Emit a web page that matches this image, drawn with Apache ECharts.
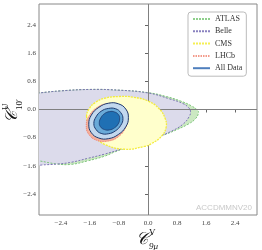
<!DOCTYPE html>
<html><head><meta charset="utf-8">
<script src="https://cdn.jsdelivr.net/npm/echarts@6/dist/echarts.min.js"></script>
<style>html,body{margin:0;padding:0;background:#fff}#c{width:262px;height:250px}</style>
</head><body><div id="c"></div>
<script>
const xTicks = [-2.4, -1.6, -0.8, 0.0, 0.8, 1.6, 2.4];
const yTicks = [-2.4, -1.6, -0.8, 0.0, 0.8, 1.6, 2.4];
const legendNames = ['ATLAS', 'Belle', 'CMS', 'LHCb', 'All Data'];

const atlas = [[-3.3,0.43],[-3,0.47],[-2.4,0.53],[-1.6,0.57],[-0.8,0.55],[0,0.48],[0.5,0.37],[0.9,0.24],[1.2,0.1],[1.36,-0.02],[1.39,-0.1],[1.3,-0.27],[1.1,-0.42],[0.8,-0.57],[0.5,-0.7],[0,-0.89],[-0.5,-1.05],[-0.9,-1.2],[-1.2,-1.33],[-1.66,-1.46],[-2.11,-1.56],[-2.5,-1.55],[-3,-1.46],[-3.3,-1.42]];
const belle = [[-3.3,0.43],[-3,0.47],[-2.4,0.53],[-1.6,0.57],[-0.8,0.55],[0,0.47],[0.6,0.3],[0.96,0.17],[1.12,0.05],[1.17,-0.05],[1.14,-0.19],[0.96,-0.42],[0.6,-0.64],[0.23,-0.8],[0,-0.89],[-0.28,-0.99],[-0.74,-1.13],[-1.2,-1.27],[-1.66,-1.39],[-2.11,-1.5],[-2.48,-1.55],[-2.94,-1.58],[-3.3,-1.62]];
const cms = [[-1.69,-0.2],[-1.62,0.02],[-1.45,0.2],[-1.2,0.32],[-0.8,0.37],[-0.4,0.35],[0,0.24],[0.3,0.03],[0.47,-0.25],[0.5,-0.5],[0.38,-0.75],[0.1,-0.97],[-0.1,-1.05],[-0.65,-1.13],[-1.2,-0.99],[-1.42,-0.8],[-1.6,-0.5]];
const lhcb = [[-0.61,0.0],[-0.82,0.15],[-1.1,0.17],[-1.4,0.06],[-1.62,-0.18],[-1.7,-0.46],[-1.62,-0.72],[-1.4,-0.88],[-1.11,-0.9],[-0.82,-0.78],[-0.62,-0.52],[-0.55,-0.24]];
const all3 = [[-0.61,0.01],[-0.81,0.16],[-1.08,0.18],[-1.355,0.06],[-1.56,-0.16],[-1.63,-0.42],[-1.56,-0.66],[-1.36,-0.81],[-1.09,-0.83],[-0.815,-0.71],[-0.61,-0.49],[-0.54,-0.23]];
const all2 = [[-0.75,-0.09],[-0.89,0.02],[-1.09,0.03],[-1.29,-0.05],[-1.43,-0.21],[-1.49,-0.4],[-1.43,-0.57],[-1.29,-0.68],[-1.09,-0.69],[-0.9,-0.61],[-0.75,-0.45],[-0.69,-0.26]];
const all1 = [[-0.81,-0.15],[-0.92,-0.07],[-1.06,-0.06],[-1.2,-0.12],[-1.3,-0.24],[-1.34,-0.37],[-1.31,-0.49],[-1.2,-0.57],[-1.06,-0.58],[-0.92,-0.52],[-0.82,-0.41],[-0.78,-0.27]];

const serif = "'Liberation Serif', 'DejaVu Serif', serif";
const fmt = v => (v < 0 ? '\u2212' : '') + Math.abs(v).toFixed(1);

function poly(pts, style, z) {
  return {
    type: 'custom', coordinateSystem: 'cartesian2d', clip: true, silent: true, z: z,
    data: pts,
    renderItem: function (params, api) {
      if (params.dataIndex !== 0) return null;
      return { type: 'polygon', shape: { points: pts.map(p => api.coord(p)), smooth: 0.45 }, style: style };
    }
  };
}
function legendLine(name, color, type, width) {
  return { type: 'line', name: name, data: [], symbol: 'none',
    lineStyle: { color: color, type: type, width: width }, itemStyle: { color: color } };
}

const chart = echarts.init(document.getElementById('c'), null, { renderer: 'canvas' });
chart.setOption({
  animation: false,
  grid: { left: 39, right: 5, top: 4, bottom: 35, show: true, borderColor: '#888', borderWidth: 1, backgroundColor: 'transparent' },
  xAxis: {
    type: 'value', min: -3, max: 3,
    axisLine: { show: false }, splitLine: { show: false },
    axisTick: { show: true, customValues: xTicks, length: 3, lineStyle: { color: '#666' } },
    axisLabel: { customValues: xTicks, formatter: fmt, fontFamily: serif, fontSize: 7, color: '#444', margin: 5 }
  },
  yAxis: {
    type: 'value', min: -3, max: 3,
    axisLine: { show: false }, splitLine: { show: false },
    axisTick: { show: true, customValues: yTicks, length: 3, lineStyle: { color: '#666' } },
    axisLabel: { customValues: yTicks, formatter: fmt, fontFamily: serif, fontSize: 7, color: '#444', margin: 3 }
  },
  legend: {
    data: legendNames, orient: 'vertical', left: 188, top: 12,
    itemWidth: 17, itemHeight: 8, itemGap: 2.3, itemTextGap: 7,
    padding: [2, 4, 3, 4], borderColor: '#bbb', borderWidth: 1, borderRadius: 3,
    backgroundColor: 'rgba(255,255,255,0.85)',
    itemStyle: { opacity: 0 },
    textStyle: { fontFamily: serif, fontSize: 8, color: '#333', lineHeight: 10 }
  },
  graphic: [
    { type: 'text', right: 10, top: 204, style: { text: 'ACCDMMNV20', fill: '#c9c9c9', font: "8px 'Liberation Sans', sans-serif" } },
    { type: 'group', left: 136, top: 228, children: [
      { type: 'text', x: 0, y: 3, style: { text: '\uD835\uDC9E', fill: '#111', font: "italic 17px 'DejaVu Serif', serif" } },
      { type: 'text', x: 13, y: 0, style: { text: 'V', fill: '#111', font: "9px " + serif } },
      { type: 'text', x: 13, y: 14, style: { text: '9\u03BC', fill: '#111', font: "italic 9px " + serif } }
    ]},
    { type: 'group', x: 1, y: 123, rotation: Math.PI / 2, children: [
      { type: 'text', x: 0, y: 3, style: { text: '\uD835\uDC9E', fill: '#111', font: "italic 17px 'DejaVu Serif', serif" } },
      { type: 'text', x: 13, y: 0, style: { text: 'U', fill: '#111', font: "9px " + serif } },
      { type: 'text', x: 13, y: 14, style: { text: "10\u2032", fill: '#111', font: "9px " + serif } }
    ]}
  ],
  series: [
    poly(atlas, { fill: '#cbe8c2', stroke: 'none' }, 1),
    poly(belle, { fill: '#dcdbeb', stroke: 'none' }, 2),
    poly(atlas, { fill: 'none', stroke: '#7cc47a', lineWidth: 1, lineDash: [2, 1.5] }, 3),
    poly(belle, { fill: 'none', stroke: '#7d74b6', lineWidth: 1, lineDash: [2, 1.5] }, 4),
    poly(cms, { fill: '#ffffcc', stroke: '#f3ec3c', lineWidth: 1.3, lineDash: [2, 1] }, 5),
    { type: 'line', data: [], silent: true, z: 6, markLine: { silent: true, symbol: 'none', label: { show: false }, animation: false,
      lineStyle: { color: '#808080', type: 'solid', width: 1 }, data: [{ xAxis: 0 }, { yAxis: 0 }] } },
    poly(lhcb, { fill: '#f5b09c', stroke: '#ef7b6a', lineWidth: 1, lineDash: [1, 1] }, 7),
    poly(all3, { fill: '#c2d8ee', stroke: '#1d3b70', lineWidth: 1 }, 8),
    poly(all2, { fill: '#6aaad8', stroke: '#1d3b70', lineWidth: 1 }, 9),
    poly(all1, { fill: '#2070b4', stroke: '#1d3b70', lineWidth: 0.8 }, 10),
    legendLine('ATLAS', '#8fd08c', [2, 1], 1),
    legendLine('Belle', '#8a82c0', [2, 1], 1),
    legendLine('CMS', '#f5ef55', [2, 1], 1),
    legendLine('LHCb', '#f39a8a', [1.5, 1], 1),
    legendLine('All Data', '#4f7fbd', 'solid', 1.2)
  ]
});
</script></body></html>
